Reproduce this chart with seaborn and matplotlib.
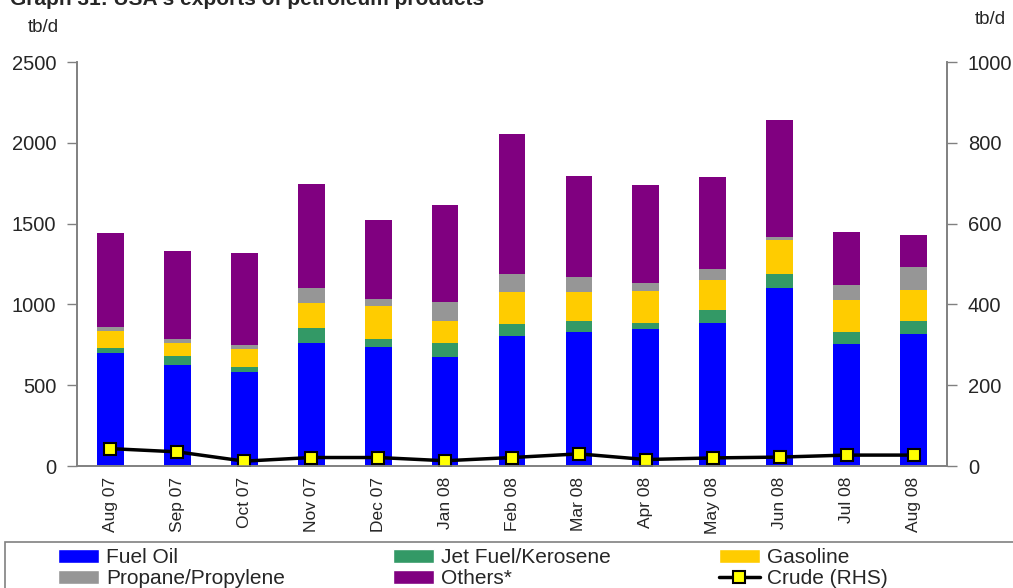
import numpy as np
import pandas as pd
import matplotlib
matplotlib.use("Agg")
import matplotlib.pyplot as plt
from matplotlib.patches import Rectangle, Patch
from matplotlib.lines import Line2D
import seaborn as sns

months = ["Aug 07", "Sep 07", "Oct 07", "Nov 07", "Dec 07", "Jan 08", "Feb 08",
          "Mar 08", "Apr 08", "May 08", "Jun 08", "Jul 08", "Aug 08"]
fuel_oil = [699, 625, 582, 761, 736, 674, 804, 829, 848, 885, 1102, 755, 817]
jet_fuel = [31, 56, 31, 93, 50, 87, 75, 68, 37, 81, 86, 74, 80]
gasoline = [106, 80, 111, 155, 204, 136, 198, 180, 198, 185, 211, 198, 192]
propane = [24, 25, 25, 93, 44, 118, 111, 93, 50, 68, 18, 93, 142]
others = [582, 545, 569, 643, 488, 600, 866, 625, 606, 570, 724, 328, 199]
crude = [43, 35, 12, 21, 21, 13, 21, 30, 16, 20, 22, 27, 27]

series_names = ["Fuel Oil", "Jet Fuel/Kerosene", "Gasoline", "Propane/Propylene", "Others*"]
colors = ["#0000FF", "#339966", "#FFCC00", "#969696", "#800080"]

sns.set_style("white")
plt.rcParams["font.family"] = ["Liberation Sans", "DejaVu Sans"]

fig = plt.figure(figsize=(10.13, 5.88), dpi=100)
ax = fig.add_axes([77/1013, 1-466/588, (947-77)/1013, (466-62)/588])

df = pd.DataFrame({"month": months, "Fuel Oil": fuel_oil, "Jet Fuel/Kerosene": jet_fuel,
                   "Gasoline": gasoline, "Propane/Propylene": propane, "Others*": others})
cum = df[series_names].cumsum(axis=1)

for name, col in reversed(list(zip(series_names, colors))):
    sns.barplot(x=df["month"], y=cum[name], color=col, width=0.4, ax=ax,
                saturation=1, linewidth=0, order=months)

ax.set_xlim(-0.5, 12.5)
ax.set_ylim(0, 2500)
ax.set_yticks([0, 500, 1000, 1500, 2000, 2500])
ax.set_xlabel("")
ax.set_ylabel("")
ax.set_xticks(range(13))
ax.set_xticklabels(months, rotation=90, fontsize=12.5)
ax.set_xticks(np.arange(-0.5, 13, 1), minor=True)
ax.tick_params(axis="x", which="major", length=0, pad=8)
ax.tick_params(axis="x", which="minor", length=5, width=1, color="#808080", direction="out")
ax.tick_params(axis="y", length=7, width=1, color="#808080", direction="out", labelsize=14.5, pad=8)
ax.spines["top"].set_visible(False)
for s in ["left", "bottom", "right"]:
    ax.spines[s].set_color("#808080")
    ax.spines[s].set_linewidth(1.2)

ax2 = ax.twinx()
sns.lineplot(x=np.arange(13), y=crude, ax=ax2, color="black", linewidth=2.5,
             marker="s", markersize=9, markerfacecolor="#FFFF00",
             markeredgecolor="black", markeredgewidth=1.5)
ax2.set_ylim(0, 1000)
ax2.set_yticks([0, 200, 400, 600, 800, 1000])
ax2.set_xlim(-0.5, 12.5)
ax2.tick_params(axis="y", length=7, width=1, color="#808080", direction="out", labelsize=14.5, pad=8)
ax2.spines["top"].set_visible(False)
for s in ["left", "bottom", "right"]:
    ax2.spines[s].set_color("#808080")
    ax2.spines[s].set_linewidth(1.2)

fig.text(10/1013, 1-5/588, "Graph 31: USA's exports of petroleum products",
         fontsize=15, fontweight="bold", va="baseline", ha="left")
fig.text(28/1013, 1-27/588, "tb/d", fontsize=13.5, va="center", ha="left")
fig.text(975/1013, 1-20/588, "tb/d", fontsize=13.5, va="center", ha="left")

fig.add_artist(Rectangle((5/1013, -0.2), 1.2, 0.2 + (588-542)/588, transform=fig.transFigure,
                         fill=False, edgecolor="#808080", linewidth=1.2))

handles = [Patch(facecolor=colors[0], label="Fuel Oil"),
           Patch(facecolor=colors[3], label="Propane/Propylene"),
           Patch(facecolor=colors[1], label="Jet Fuel/Kerosene"),
           Patch(facecolor=colors[4], label="Others*"),
           Patch(facecolor=colors[2], label="Gasoline"),
           Line2D([0], [0], color="black", linewidth=2.5, marker="s", markersize=9,
                  markerfacecolor="#FFFF00", markeredgecolor="black", markeredgewidth=1.5,
                  label="Crude (RHS)")]
fig.legend(handles=handles, ncol=3, loc="upper left",
           bbox_to_anchor=(58/1013, 1-548/588), frameon=False, fontsize=15,
           handlelength=1.95, handleheight=0.65, handletextpad=0.35, columnspacing=5.2,
           labelspacing=0.12, borderpad=0, borderaxespad=0)

fig.savefig("out.png", dpi=100)
